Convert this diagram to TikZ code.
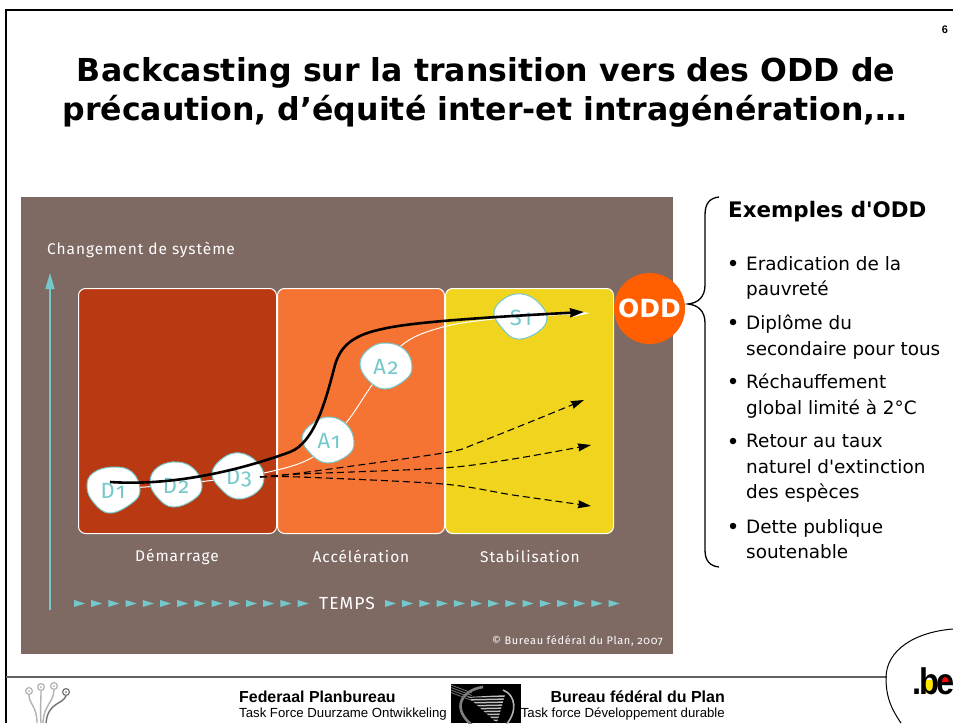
\documentclass[tikz,border=0pt]{standalone}
\usepackage{fontspec}
\setmainfont{DejaVu Sans}
\newfontfamily\tahoma{Liberation Sans}
\newfontfamily\befont[LetterSpace=-8]{Liberation Sans}
\newfontfamily\itemf{DejaVu Sans}
\newfontfamily\lab[LetterSpace=6,Numbers=OldStyle]{Fira Sans}
\usetikzlibrary{arrows.meta,calc}
\definecolor{bgbrown}{HTML}{7E6A63}
\definecolor{rust}{HTML}{B93A12}
\definecolor{orng}{HTML}{F57433}
\definecolor{yel}{HTML}{F1D41D}
\definecolor{oddc}{HTML}{FF5F00}
\definecolor{teal}{HTML}{74C8CB}
\tikzset{
  x=1pt,y=-1pt,
  phase/.style={draw=white,line width=1pt,rounded corners=7pt},
  blob/.style={draw=teal,fill=white,line width=1pt},
  bloblab/.style={text=teal,font=\lab\fontsize{22}{22}\selectfont,inner sep=0},
  wline/.style={draw=white,line width=1pt},
  heavy line/.style={draw=black,line width=2.6pt},
  dashline/.style={draw=black,line width=1.1pt,dash pattern=on 7pt off 4pt,-{Stealth[length=13pt,width=8pt,inset=1pt]}},
  wlabel/.style={text=white,font=\lab\fontsize{15.5}{15.5}\selectfont,inner sep=0},
  ttl/.style={font=\bfseries\fontsize{31.6}{31.6}\selectfont,inner sep=0,anchor=base},
  item/.style={font=\itemf\fontsize{18.4}{25.5}\selectfont,anchor=north west,align=left,inner sep=0},
  dot/.style={circle,fill=black,inner sep=0,minimum size=6.5pt},
  tick/.style={fill=teal,draw=none},
  wire/.style={line width=1.4pt,draw=black!30},
  pad/.style={line width=1.2pt,draw=black!30,fill=white},
}
\begin{document}
\begin{tikzpicture}
\useasboundingbox (0,0) rectangle (953,723);
\fill[white] (0,0) rectangle (953,723);
% frame
\draw[black,line width=2.4pt] (6,723) -- (6,10) -- (953,10);
% title
\node[ttl] (t1) at (486,81) {Backcasting sur la transition vers des ODD de};
\node[ttl] (t2) at (485,120) {précaution, d’équité inter-et intragénération,…};
\node[font=\tahoma\bfseries\fontsize{11}{11}\selectfont,inner sep=0] (pg) at (945,30) {6};
% panel
\fill[bgbrown] (21,197) rectangle (673,654);
\node[phase,fill=rust,minimum width=198pt,minimum height=245pt,anchor=north west] (p1) at (78,288) {};
\node[phase,fill=orng,minimum width=167pt,minimum height=245pt,anchor=north west] (p2) at (277,288) {};
\node[phase,fill=yel,minimum width=168pt,minimum height=245pt,anchor=north west] (p3) at (445,288) {};
% axis
\coordinate (axb) at (50,610);
\coordinate (axt) at (50,273);
\draw[teal,line width=1.3pt,-{Triangle[length=16pt,width=9pt]}] (axb) -- (axt);
\node[wlabel,anchor=west] (chg) at (47,250) {Changement de système};
\node[wlabel] (dem) at (177,556.5) {Démarrage};
\node[wlabel] (acc) at (361,556) {Accélération};
\node[wlabel] (sta) at (530,556.5) {Stabilisation};
\node[wlabel,font=\lab\fontsize{17.5}{17.5}\selectfont] (tps) at (347,603) {TEMPS};
\foreach \i in {0,...,13}{
  \fill[tick] ({74+17.2*\i},600) -- ++(11,3.5) -- ++(-11,3.5) -- cycle;
  \fill[tick] ({385+17.2*\i},600) -- ++(11,3.5) -- ++(-11,3.5) -- cycle;
}
\node[text=white,font=\lab\fontsize{11}{11}\selectfont,anchor=east,inner sep=0] (cr) at (663,641) {© Bureau fédéral du Plan, 2007};
% white curve
\draw[wline] plot[smooth,tension=.6] coordinates {(113,488) (145,487) (207,481) (264,473) (313,457) (346,423) (372,385) (402,345) (443,327) (494,319) (540,316) (585,313)};
% blobs
\draw[blob] plot[smooth cycle,tension=.7] coordinates {(87,487) (93,473) (113,467) (132,472) (140,490) (132,503) (110,513) (94,503)};
\draw[blob] plot[smooth cycle,tension=.7] coordinates {(150,482) (158,467) (178,462) (195,470) (202,487) (193,500) (173,507) (158,498)};
\draw[blob] plot[smooth cycle,tension=.7] coordinates {(212,473) (223,458) (240,453) (257,462) (264,477) (257,492) (237,499) (220,488)};
\draw[blob] plot[smooth cycle,tension=.7] coordinates {(302,438) (313,423) (330,417) (347,425) (354,442) (348,455) (328,463) (312,455)};
\draw[blob] plot[smooth cycle,tension=.7] coordinates {(360,363) (370,348) (387,343) (405,350) (412,367) (405,380) (385,389) (368,380)};
\draw[blob] plot[smooth cycle,tension=.7] coordinates {(494,312) (505,298) (522,294) (538,302) (547,318) (538,332) (517,339) (502,328)};
\node[bloblab] (d1) at (113,491) {D1};
\node[bloblab] (d2) at (176,486) {D2};
\node[bloblab] (d3) at (239,478) {D3};
\node[bloblab] (a1) at (329,441) {A1};
\node[bloblab] (a2) at (386,367) {A2};
\node[bloblab] (s1) at (521,318) {S1};
% white arrow tip
\coordinate (wtipa) at (573,317);
\coordinate (wtipb) at (590,313);
\coordinate (wtipc) at (573,311);
\fill[white] (wtipa) -- (wtipb) -- (wtipc) -- cycle;
% black curve
\coordinate (ks) at (110,482);
\coordinate (ke) at (584,312);
\draw[heavy line,-{Stealth[length=14pt,width=9pt,inset=1pt]}] (ks)
  .. controls (170,486) and (235,472) .. (290,452)
  .. controls (316,442) and (327,395) .. (335,365)
  .. controls (342,340) and (362,333) .. (387,328)
  .. controls (420,321) and (510,316) .. (ke);
% dashed
\draw[dashline] plot[smooth,tension=.5] coordinates {(260,477) (300,473) (443,453) (480,442) (584,400)};
\draw[dashline] plot[smooth,tension=.5] coordinates {(260,477) (300,474) (443,468) (513,459) (591,445)};
\draw[dashline] plot[smooth,tension=.5] coordinates {(260,477) (300,477) (443,484) (513,495) (591,506)};
% ODD
\node[circle,fill=oddc,minimum size=71pt,inner sep=0,text=white,font=\bfseries\fontsize{25}{25}\selectfont] (odd) at (649.5,308.5) {ODD};
% brace
\coordinate (brt) at (719,197);
\coordinate (brm) at (688,304);
\coordinate (brb) at (719,567);
\draw[black,line width=1.3pt] (brt) .. controls (710,198) and (705,203) .. (705,215)
  -- (705,285) .. controls (705,297) and (698,303) .. (brm)
  .. controls (698,305) and (705,311) .. (705,323)
  -- (705,550) .. controls (705,561) and (710,566) .. (brb);
% list
\node[font=\itemf\bfseries\fontsize{21.4}{21.4}\selectfont,anchor=west,inner sep=0] (ex) at (728,212) {Exemples d'ODD};
\foreach \n/\y/\t in {a/256/{Eradication de la\\pauvreté},b/315/{Diplôme du\\secondaire pour tous},c/374/{Réchauffement\\global limité à 2°C},d/434/{Retour au taux\\naturel d'extinction\\des espèces},e/519/{Dette publique\\soutenable}}{
  \node[item] (it\n) at (746,\y) {\t};
  \node[dot] (bu\n) at (733,\y+7) {};
}
% footer
\coordinate (fl) at (6,677);
\coordinate (fr) at (887,677);
\draw[black!62,line width=2.2pt] (fl) -- (fr);
% .be circle
\draw[black,line width=1pt] (953,629) .. controls (915,632) and (886,650) .. (886,678) .. controls (886,698) and (892,710) .. (901,723);
\fill[yellow!90!orange] (925,680) rectangle (935,693);
\fill[red] (939,677) rectangle (950,685);
\node[font=\befont\bfseries\fontsize{37}{37}\selectfont,inner sep=0,xscale=.88,anchor=base] (be) at (933.5,694) {.be};
% pcb logo
\draw[wire] (29,695) .. controls (29,704) and (37,706) .. (37,723);
\draw[wire] (41,691) .. controls (41,703) and (40,708) .. (41,723);
\draw[wire] (54,690) .. controls (53,704) and (44,704) .. (43,723);
\draw[wire,draw=black!55] (66,696) .. controls (62,705) and (48,702) .. (46,723);
\foreach \x/\y in {29/691,41/687,54/686}{
  \draw[pad] (\x,\y) circle (3.4);
  \fill[black!30] (\x,\y) circle (1);
}
\draw[pad,draw=black!55] (66,692) circle (3.4);
\fill[black!55] (66,692) circle (1);
% footer text
\node[font=\tahoma\bfseries\fontsize{15.9}{15.9}\selectfont,anchor=west,inner sep=0] (fp) at (239,697) {Federaal Planbureau};
\node[font=\tahoma\fontsize{13.2}{13.2}\selectfont,anchor=west,inner sep=0] (tf) at (239,714) {Task Force Duurzame Ontwikkeling};
\node[font=\tahoma\bfseries\fontsize{16}{16}\selectfont,anchor=east,inner sep=0] (bf) at (725,697) {Bureau fédéral du Plan};
% center logo
\fill[black] (451,684) rectangle (521,723);
\begin{scope}
\clip (451,684) rectangle (521,723);
\draw[black!50,line width=2.6pt] (483,687) .. controls (462,690) and (450,708) .. (473,726);
\draw[black!30,line width=1.6pt] (503,690) .. controls (516,695) and (518,712) .. (505,726);
\foreach \y in {685,687.5,690,692.5}
  \draw[black!55,line width=.8pt] (451,\y) -- (472,\y+8);
\clip (468,697) -- (505,695) -- (497,723) -- cycle;
\foreach \y in {694,697,...,724}
  \draw[black!25,line width=1.5pt] (462,\y) -- (510,\y-1);
\end{scope}
\node[font=\tahoma\fontsize{13.2}{13.2}\selectfont,anchor=east,inner sep=0] (tfd) at (725,714) {Task force Développement durable};
\end{tikzpicture}
\end{document}
